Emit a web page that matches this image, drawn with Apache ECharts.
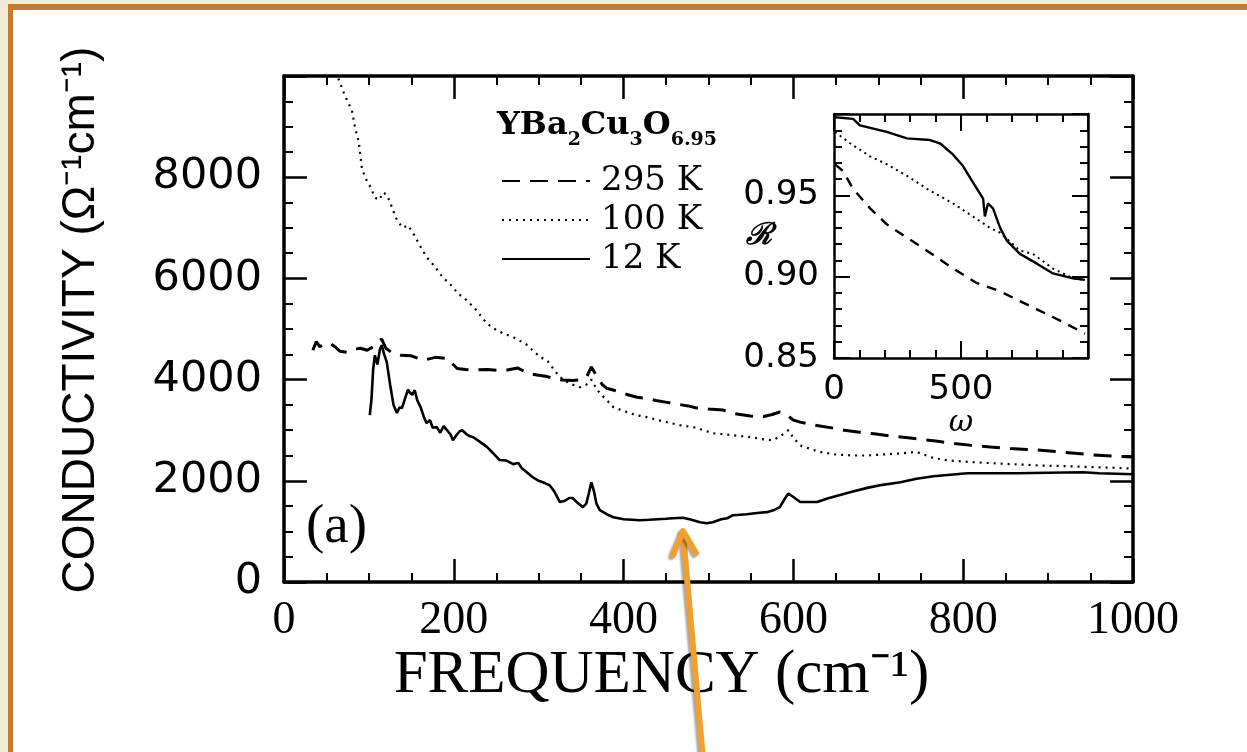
<!DOCTYPE html>
<html><head><meta charset="utf-8">
<script src="https://cdn.jsdelivr.net/npm/echarts@6/dist/echarts.min.js"></script>
<style>
html,body{margin:0;padding:0;background:#fff;overflow:hidden;width:1247px;height:752px}
#wrap{position:absolute;left:0;top:0;width:1247px;height:752px;background:#fff;overflow:hidden}
#cream{position:absolute;left:0;top:0;width:8px;height:752px;background:#F2EAD4}
#creamT{position:absolute;left:0;top:0;width:1247px;height:4px;background:#F2EAD4}
#orT{position:absolute;left:8px;top:4px;width:1239px;height:6px;background:#C67A2E}
#orL{position:absolute;left:8px;top:4px;width:5px;height:748px;background:#C67A2E}
#c{position:absolute;left:13px;top:10px;width:1234px;height:742px;background:#fff}
</style>
</head><body><div id="wrap"><div id="cream"></div><div id="creamT"></div><div id="orT"></div><div id="orL"></div><div id="c"></div></div>
<script>
// ---------- Main panel: conductivity vs frequency ----------
const f295 = [34,38,42,48,54,60,66,74,82,90,98,105,110,115,120,128,137,150,164,178,192,204,214,223,240,252,263,275,288,298,310,320,329,340,350,357,362,368,375,380,395,405,416,430,440,451,465,476,486,500,517,530,549,565,575,584,590,600,608,625,647,660,678,695,717,735,749,770,788,810,832,855,875,895,914,935,953,975,1000];
const s295 = [4580,4750,4650,4700,4720,4650,4560,4540,4600,4620,4580,4650,4740,4800,4620,4520,4480,4470,4380,4440,4420,4220,4200,4190,4200,4180,4190,4230,4120,4090,4060,4010,3990,3980,4000,4070,4250,4080,3900,3830,3760,3700,3650,3620,3580,3550,3510,3480,3440,3420,3400,3330,3280,3270,3310,3360,3330,3200,3160,3100,3040,3000,2960,2930,2880,2850,2820,2780,2740,2700,2670,2640,2620,2600,2570,2540,2510,2490,2470];

const f100 = [64,72,80,84,88,92,97,102,107,112,117,121,125,133,140,146,152,160,168,177,187,195,205,215,225,239,250,260,270,285,302,310,320,329,340,349,356,362,367,372,380,388,400,414,427,445,466,485,505,529,550,565,576,586,594,600,608,620,631,650,670,687,705,725,745,765,784,810,843,870,895,922,950,975,1000];
const s100 = [9950,9600,9320,8950,8700,8150,7950,7800,7600,7550,7700,7650,7500,7150,7000,7050,6900,6650,6420,6250,6020,5900,5700,5570,5400,5110,4980,4900,4840,4700,4440,4380,4150,3990,3900,3850,3900,4000,3850,3730,3600,3455,3380,3300,3260,3180,3100,3050,2940,2900,2860,2820,2800,2900,3000,2850,2700,2630,2570,2520,2500,2500,2520,2540,2570,2450,2400,2370,2340,2320,2300,2290,2270,2260,2240];

const f12 = [101,103,105,107,110,113,115,118,121,125,129,133,136,139,143,146,148,151,154,157,161,165,168,172,175,180,184,188,192,196,199,203,207,210,215,219,223,230,235,239,246,254,262,270,276,280,286,293,300,308,313,318,325,330,336,340,346,352,356,359,362,365,368,372,380,388,400,410,419,430,440,450,458,470,480,490,498,505,515,522,529,545,560,569,578,584,590,594,600,608,618,628,640,655,670,687,705,726,745,765,785,805,830,863,900,941,960,980,1000];
const s12 = [3300,3600,4200,4480,4300,4600,4680,4500,4350,3900,3500,3340,3450,3440,3650,3800,3750,3700,3790,3590,3450,3250,3140,3200,3050,3060,2950,3080,3000,2920,2800,2900,2980,3000,2920,2880,2860,2780,2720,2670,2550,2410,2400,2330,2350,2250,2170,2070,2000,1950,1910,1800,1580,1600,1660,1660,1560,1480,1550,1750,1970,1800,1550,1420,1340,1280,1240,1230,1220,1230,1240,1250,1260,1270,1230,1180,1160,1180,1240,1260,1320,1340,1370,1380,1430,1480,1650,1750,1680,1580,1580,1580,1650,1720,1790,1860,1920,1970,2040,2090,2120,2150,2150,2150,2160,2170,2150,2140,2130];

// ---------- Inset: reflectance vs omega ----------
const w12 = [4,75,102,208,287,378,417,469,508,547,587,594,606,626,654,681,732,799,862,941,988];
const r12 = [0.998,0.997,0.993,0.989,0.985,0.984,0.982,0.975,0.968,0.958,0.948,0.937,0.945,0.942,0.930,0.922,0.914,0.908,0.902,0.899,0.898];
const w100 = [4,63,142,209,287,366,469,547,614,654,732,783,862,941,988];
const r100 = [0.989,0.982,0.974,0.969,0.962,0.954,0.945,0.937,0.930,0.927,0.916,0.914,0.905,0.899,0.898];
const w295 = [4,35,75,142,209,287,366,469,563,654,732,811,890,988];
const r295 = [0.969,0.965,0.954,0.942,0.932,0.924,0.916,0.905,0.896,0.891,0.885,0.879,0.873,0.865];

const mainXTicks = [0,200,400,600,800,1000];
const legendNames = ['295 K','100 K','12 K'];

const zip = (a,b) => a.map((x,i)=>[x,b[i]]);
const blk = '#000';
// chart div is offset by (13,10) inside the page; layout numbers below are page coords minus this offset
const OX = 13, OY = 10;

function axis(o){
  return Object.assign({
    type:'value',
    nameMoveOverlap:false,
    axisLine:{show:true,onZero:false,lineStyle:{color:blk,width:o.lw||3.5}},
    axisTick:{show:true,inside:true,length:o.tl||23,lineStyle:{color:blk,width:o.tw||2.5}},
    minorTick:{show:true,splitNumber:o.ms,length:o.ml||9,lineStyle:{color:blk,width:o.mw||2}},
    splitLine:{show:false}, minorSplitLine:{show:false},
    axisLabel:{show:false}
  }, o.extra);
}

const chart = echarts.init(document.getElementById('c'), null, {renderer:'canvas', width:1234, height:742});
const option = {
  animation:false,
  backgroundColor:'#ffffff',
  title:[
    {left:497-OX, top:110-OY, padding:0, text:'{m|YBa}{s|2}{m|Cu}{s|3}{m|O}{s|6.95}',
     textStyle:{rich:{
       m:{fontFamily:'DejaVu Serif',fontSize:32,fontWeight:'bold',color:blk,verticalAlign:'top',lineHeight:36},
       s:{fontFamily:'DejaVu Serif',fontSize:19,fontWeight:'bold',color:blk,verticalAlign:'bottom',lineHeight:40}
     }}},
    {left:306-OX, top:500-OY, padding:0, text:'(a)', textStyle:{fontFamily:'Liberation Serif',fontSize:55,fontWeight:'normal',color:blk}}
  ],
  legend:{
    show:true, orient:'vertical', left:501-OX, top:164-OY, padding:0, itemGap:5,
    itemWidth:88, itemHeight:14, data:legendNames,
    itemStyle:{color:'rgba(0,0,0,0)', borderWidth:0, opacity:0},
    textStyle:{fontFamily:'DejaVu Serif',fontSize:34,color:blk,padding:[0,0,0,6]}
  },
  grid:[
    {left:284-OX, top:76-OY, width:849, height:506, containLabel:false},
    {left:834-OX, top:114-OY, width:254, height:244, containLabel:false, show:true, backgroundColor:'#fff', borderWidth:0}
  ],
  xAxis:[
    axis({ms:4, extra:{gridIndex:0, position:'bottom', min:0, max:1000, interval:200,
      axisLabel:{show:true, margin:16, fontFamily:'Liberation Serif', fontSize:46, color:blk,
        formatter:v=> mainXTicks.includes(v)? String(v):''},
      name:'FREQUENCY (cm⁻¹)', nameLocation:'middle', nameGap:63,
      nameTextStyle:{fontFamily:'Liberation Serif',fontSize:61,color:blk,padding:[0,94,0,0]}}}),
    axis({ms:4, extra:{gridIndex:0, position:'top', min:0, max:1000, interval:200}}),
    axis({ms:5, lw:2.5, tl:17, tw:2, ml:8, mw:2, extra:{gridIndex:1, position:'bottom', min:0, max:1000, interval:500,
      axisLabel:{show:true, margin:15, fontFamily:'DejaVu Sans', fontSize:34, color:blk,
        formatter:v=> v>=1000?'':String(v)},
      name:'ω', nameLocation:'middle', nameGap:50,
      nameTextStyle:{fontFamily:'DejaVu Serif',fontStyle:'italic',fontSize:30,color:blk}}}),
    axis({ms:5, lw:2.5, tl:17, tw:2, ml:8, mw:2, extra:{gridIndex:1, position:'top', min:0, max:1000, interval:500}})
  ],
  yAxis:[
    axis({ms:4, extra:{gridIndex:0, position:'left', min:0, max:10000, interval:2000,
      axisLabel:{show:true, margin:22, fontFamily:'DejaVu Sans', fontSize:43, color:blk,
        formatter:v=> v>=10000?'':String(v)},
      name:'CONDUCTIVITY (Ω⁻¹cm⁻¹)', nameLocation:'middle', nameGap:180, nameRotate:90,
      nameTextStyle:{fontFamily:'Liberation Sans',fontSize:46,color:blk,padding:[0,0,0,18]}}}),
    axis({ms:4, extra:{gridIndex:0, position:'right', min:0, max:10000, interval:2000}}),
    axis({ms:5, lw:2.5, tl:16, tw:2, ml:8, mw:2, extra:{gridIndex:1, position:'left', min:0.85, max:1.0, interval:0.05,
      axisLabel:{show:true, margin:15, fontFamily:'DejaVu Sans', fontSize:34, color:blk,
        formatter:v=> v>0.999?'':v.toFixed(2)},
      name:'ℛ', nameLocation:'middle', nameGap:62, nameRotate:0,
      nameTextStyle:{fontFamily:'DejaVu Serif',fontStyle:'italic',fontWeight:'bold',fontSize:30,color:blk}}}),
    axis({ms:5, lw:2.5, tl:16, tw:2, ml:8, mw:2, extra:{gridIndex:1, position:'right', min:0.85, max:1.0, interval:0.05}})
  ],
  series:[
    {name:'295 K', type:'line', xAxisIndex:0, yAxisIndex:0, symbol:'none', data:zip(f295,s295),
     lineStyle:{color:blk,width:3,type:[18,10]}, itemStyle:{color:blk}},
    {name:'100 K', type:'line', xAxisIndex:0, yAxisIndex:0, symbol:'none', data:zip(f100,s100),
     lineStyle:{color:blk,width:2.2,type:[2,5]}, itemStyle:{color:blk}},
    {name:'12 K', type:'line', xAxisIndex:0, yAxisIndex:0, symbol:'none', data:zip(f12,s12),
     lineStyle:{color:blk,width:2.6,type:'solid'}, itemStyle:{color:blk}},
    {name:'R 295 K', type:'line', xAxisIndex:2, yAxisIndex:2, symbol:'none', data:zip(w295,r295),
     lineStyle:{color:blk,width:2.4,type:[10,8]}},
    {name:'R 100 K', type:'line', xAxisIndex:2, yAxisIndex:2, symbol:'none', data:zip(w100,r100),
     lineStyle:{color:blk,width:2,type:[2,4]}},
    {name:'R 12 K', type:'line', xAxisIndex:2, yAxisIndex:2, symbol:'none', data:zip(w12,r12),
     lineStyle:{color:blk,width:2.4,type:'solid'}}
  ],
  graphic:[
    {type:'polyline', z:100, silent:true, shape:{points:[[703-OX,760-OY],[683-OX,533-OY]]},
     style:{stroke:'#F0A030',lineWidth:6,lineCap:'round',shadowColor:'rgba(0,0,0,0.35)',shadowBlur:2,shadowOffsetX:-2,shadowOffsetY:2}},
    {type:'polyline', z:100, silent:true, shape:{points:[[673-OX,555-OY],[683-OX,531-OY],[696-OX,553-OY]]},
     style:{stroke:'#F0A030',lineWidth:6,lineCap:'round',lineJoin:'round',fill:null,shadowColor:'rgba(0,0,0,0.35)',shadowBlur:2,shadowOffsetX:-2,shadowOffsetY:2}}
  ]
};
chart.setOption(option);
</script></body></html>
